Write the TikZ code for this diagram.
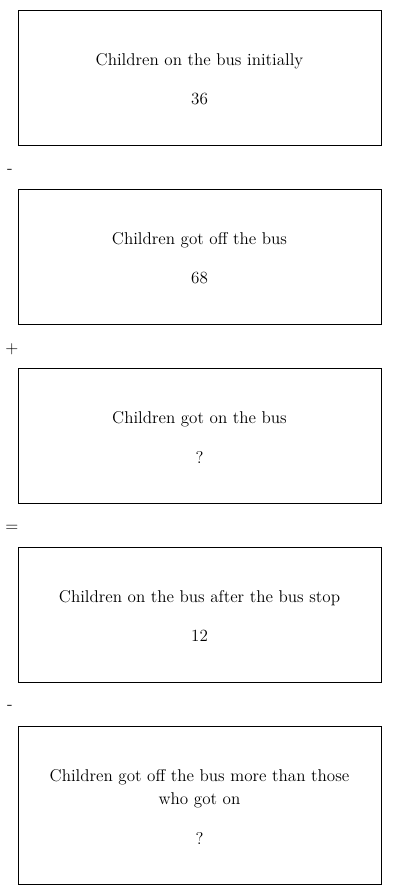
\documentclass[tikz,border=0pt]{standalone}
\begin{document}
\begin{tikzpicture}[x=0.75pt,y=-0.75pt,
  box/.style={draw,line width=0.75pt,minimum width=363*0.75pt,inner sep=0pt,anchor=north west},
  txt/.style={font=\fontsize{12.8}{17.25}\selectfont,align=center,inner sep=0pt},
  op/.style={font=\fontsize{12.8}{14}\selectfont,inner sep=0pt}]
\useasboundingbox (0,0) rectangle (400,895);
\node[box,minimum height=135*0.75pt] (b1) at (18,10) {};
\node[box,minimum height=135*0.75pt] (b2) at (18,189) {};
\node[box,minimum height=135*0.75pt] (b3) at (18,368) {};
\node[box,minimum height=135*0.75pt] (b4) at (18,547) {};
\node[box,minimum height=158*0.75pt] (b5) at (18,726) {};
\node[txt] (t1) at (199.5,61) {Children on the bus initially};
\node[txt] (n1) at (199.5,99) {36};
\node[txt] (t2) at (199.5,240) {Children got off the bus};
\node[txt] (n2) at (199.5,278) {68};
\node[txt] (t3) at (199.5,419) {Children got on the bus};
\node[txt] (n3) at (199.5,457) {?};
\node[txt] (t4) at (199.5,598) {Children on the bus after the bus stop};
\node[txt] (n4) at (199.5,636) {12};
\node[txt] (t5) at (199.5,788.5) {Children got off the bus more than those\\who got on};
\node[txt] (n5) at (199.5,838) {?};
\node[op] (o1) at (10,171) {-};
\node[op] (o2) at (12,349) {+};
\node[op] (o3) at (12,528) {=};
\node[op] (o4) at (10,707) {-};
\end{tikzpicture}
\end{document}
